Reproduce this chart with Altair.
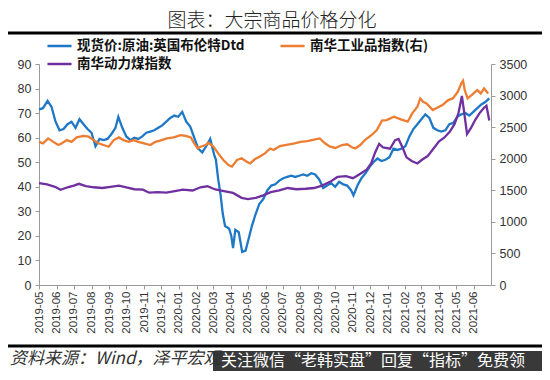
import altair as alt
import pandas as pd

# ---------------- data ----------------
S_BRENT = "现货价:原油:英国布伦特Dtd"
S_NH = "南华工业品指数(右)"
S_COAL = "南华动力煤指数"

brent_dates = [
    "2019-05-01", "2019-05-08", "2019-05-16", "2019-05-23", "2019-05-30", "2019-06-06", "2019-06-13",
    "2019-06-20", "2019-06-27", "2019-07-04", "2019-07-11", "2019-07-18", "2019-07-25", "2019-08-01",
    "2019-08-08", "2019-08-15", "2019-08-22", "2019-08-29", "2019-09-05", "2019-09-12", "2019-09-17",
    "2019-09-24", "2019-10-01", "2019-10-08", "2019-10-15", "2019-10-22", "2019-10-29", "2019-11-05",
    "2019-11-12", "2019-11-19", "2019-11-26", "2019-12-03", "2019-12-10", "2019-12-17", "2019-12-24",
    "2019-12-31", "2020-01-07", "2020-01-14", "2020-01-21", "2020-01-28", "2020-02-04", "2020-02-11",
    "2020-02-18", "2020-02-25", "2020-03-03", "2020-03-06", "2020-03-10", "2020-03-14", "2020-03-18",
    "2020-03-22", "2020-03-29", "2020-04-02", "2020-04-05", "2020-04-09", "2020-04-15", "2020-04-21",
    "2020-04-27", "2020-05-02", "2020-05-08", "2020-05-14", "2020-05-21", "2020-05-28", "2020-06-04",
    "2020-06-11", "2020-06-18", "2020-06-25", "2020-07-02", "2020-07-09", "2020-07-16", "2020-07-23",
    "2020-07-30", "2020-08-06", "2020-08-13", "2020-08-20", "2020-08-27", "2020-09-03", "2020-09-10",
    "2020-09-17", "2020-09-24", "2020-10-01", "2020-10-08", "2020-10-15", "2020-10-22", "2020-10-29",
    "2020-11-02", "2020-11-09", "2020-11-16", "2020-11-23", "2020-11-30", "2020-12-07", "2020-12-14",
    "2020-12-21", "2020-12-28", "2021-01-04", "2021-01-11", "2021-01-18", "2021-01-25", "2021-02-01",
    "2021-02-08", "2021-02-15", "2021-02-22", "2021-03-01", "2021-03-08", "2021-03-15", "2021-03-22",
    "2021-03-29", "2021-04-05", "2021-04-12", "2021-04-19", "2021-04-26", "2021-05-03", "2021-05-10",
    "2021-05-17", "2021-05-24", "2021-05-31", "2021-06-07", "2021-06-14", "2021-06-21", "2021-06-28",
]
brent_vals = [
    71.5, 72.0, 75.0, 72.5, 66.5, 63.0, 63.5,
    65.5, 66.5, 64.0, 67.5, 65.5, 63.5, 62.0,
    56.5, 59.5, 59.0, 59.5, 61.5, 64.0, 68.5,
    64.0, 60.5, 59.0, 60.0, 59.5, 60.5, 62.0,
    62.5, 63.0, 64.0, 65.0, 66.5, 68.0, 69.0,
    68.5, 70.5, 66.5, 64.5, 60.0, 55.5, 54.0,
    56.5, 59.5, 53.0, 51.0, 43.0, 37.0, 29.0,
    24.0, 23.0, 20.0, 15.0, 22.5, 21.5, 13.5,
    14.0, 18.5, 24.0, 28.5, 33.0, 35.0, 38.5,
    40.5, 41.0, 42.5, 43.5, 44.0, 44.5, 44.0,
    44.5, 45.0, 44.5, 45.5, 45.0, 43.0, 39.5,
    40.5, 41.5, 40.0, 42.0, 41.0, 40.5, 38.5,
    36.5, 40.5, 43.5, 45.5, 48.0, 50.0, 51.5,
    50.5, 51.0, 52.0, 55.5, 55.0, 55.5, 56.5,
    60.5, 63.5, 65.5, 67.5, 69.5, 68.0, 64.0,
    63.0, 62.5, 63.0, 65.5, 66.0, 68.5, 69.5,
    70.0, 69.0, 70.5, 72.0, 73.5, 74.5, 76.0,
]

coal_dates = [
    "2019-05-01", "2019-05-15", "2019-05-29", "2019-06-08", "2019-06-20", "2019-07-01", "2019-07-10",
    "2019-07-22", "2019-08-05", "2019-08-20", "2019-09-03", "2019-09-18", "2019-10-01", "2019-10-15",
    "2019-10-30", "2019-11-10", "2019-11-25", "2019-12-10", "2019-12-25", "2020-01-08", "2020-01-25",
    "2020-02-08", "2020-02-20", "2020-03-05", "2020-03-20", "2020-04-05", "2020-04-20", "2020-05-01",
    "2020-05-15", "2020-05-28", "2020-06-10", "2020-06-25", "2020-07-10", "2020-07-25", "2020-08-10",
    "2020-08-25", "2020-09-08", "2020-09-22", "2020-10-05", "2020-10-20", "2020-11-01", "2020-11-12",
    "2020-11-25", "2020-12-03", "2020-12-10", "2020-12-17", "2020-12-24", "2021-01-05", "2021-01-14",
    "2021-01-20", "2021-01-27", "2021-02-03", "2021-02-12", "2021-02-22", "2021-03-02", "2021-03-12",
    "2021-03-22", "2021-04-01", "2021-04-10", "2021-04-20", "2021-04-28", "2021-05-05", "2021-05-11",
    "2021-05-14", "2021-05-20", "2021-05-27", "2021-06-04", "2021-06-11", "2021-06-18", "2021-06-23",
    "2021-06-28",
]
coal_vals = [
    41.5, 41.0, 40.0, 38.8, 39.8, 40.5, 41.2,
    40.3, 39.8, 39.5, 40.0, 40.5, 39.8, 39.0,
    38.8, 37.6, 37.8, 37.6, 38.2, 38.8, 38.5,
    39.8, 40.2, 38.9, 38.2, 37.5, 35.5, 35.0,
    35.5, 36.5, 37.8, 38.5, 39.5, 39.0, 39.2,
    39.5, 40.5, 42.0, 44.0, 44.3, 43.5, 45.0,
    47.0, 49.5, 54.0, 57.5, 56.0, 55.5, 59.0,
    59.5, 56.0, 52.0, 50.5, 49.5, 51.0, 52.5,
    55.5, 58.5, 60.0, 62.5, 65.5, 70.0, 77.0,
    72.0, 61.5, 64.0, 67.5, 70.0, 72.0, 73.0,
    67.0,
]

nh_dates = [
    "2019-05-01", "2019-05-08", "2019-05-17", "2019-05-26", "2019-06-04", "2019-06-10", "2019-06-19",
    "2019-06-27", "2019-07-06", "2019-07-18", "2019-07-27", "2019-08-05", "2019-08-13", "2019-08-22",
    "2019-08-31", "2019-09-09", "2019-09-18", "2019-09-26", "2019-10-05", "2019-10-14", "2019-10-22",
    "2019-11-01", "2019-11-12", "2019-11-21", "2019-11-29", "2019-12-11", "2019-12-23", "2020-01-04",
    "2020-01-13", "2020-01-22", "2020-01-28", "2020-02-03", "2020-02-08", "2020-02-17", "2020-02-22",
    "2020-03-02", "2020-03-10", "2020-03-19", "2020-03-28", "2020-04-03", "2020-04-12", "2020-04-20",
    "2020-04-29", "2020-05-05", "2020-05-13", "2020-05-22", "2020-05-31", "2020-06-09", "2020-06-15",
    "2020-06-26", "2020-07-10", "2020-07-22", "2020-08-01", "2020-08-13", "2020-08-27", "2020-09-04",
    "2020-09-13", "2020-09-22", "2020-10-01", "2020-10-13", "2020-10-22", "2020-10-31", "2020-11-05",
    "2020-11-14", "2020-11-22", "2020-12-04", "2020-12-13", "2020-12-22", "2020-12-30", "2021-01-12",
    "2021-01-24", "2021-02-05", "2021-02-13", "2021-02-22", "2021-02-27", "2021-03-04", "2021-03-10",
    "2021-03-21", "2021-04-01", "2021-04-07", "2021-04-17", "2021-04-25", "2021-05-04", "2021-05-10",
    "2021-05-13", "2021-05-16", "2021-05-21", "2021-05-28", "2021-06-07", "2021-06-13", "2021-06-19",
    "2021-06-26",
]
nh_vals = [
    2267, 2244, 2322, 2267, 2217, 2244, 2295,
    2267, 2337, 2361, 2349, 2295, 2244, 2217,
    2190, 2295, 2337, 2295, 2267, 2295, 2267,
    2244, 2217, 2267, 2287, 2322, 2337, 2372,
    2361, 2337, 2244, 2162, 2190, 2217, 2252,
    2190, 2084, 1980, 1898, 1874, 1980, 2007,
    1952, 1925, 1991, 2034, 2084, 2162, 2139,
    2201, 2225, 2244, 2267, 2280, 2306, 2322,
    2244, 2190, 2170, 2217, 2228, 2178, 2162,
    2217, 2295, 2376, 2454, 2605, 2612, 2665,
    2623, 2586, 2718, 2823, 2955, 2902, 2876,
    2770, 2823, 2850, 2929, 2955, 3061, 3193,
    3235, 3087, 2955, 3008, 3087, 3034, 3113,
    3034,
]

left_ticks = [0, 10, 20, 30, 40, 50, 60, 70, 80, 90]
right_ticks = [0, 500, 1000, 1500, 2000, 2500, 3000, 3500]
month_ticks = [(2019, m) for m in range(5, 13)] + [(2020, m) for m in range(1, 13)] + [(2021, m) for m in range(1, 7)]

TITLE = "图表：大宗商品价格分化"
FOOTER = "资料来源：Wind，泽平宏观"
WATERMARK = "关注微信“老韩实盘”回复“指标”免费领"

BLUE, ORANGE, PURPLE = "#1F78C6", "#ED7D31", "#7030A0"

# ---------------- frames ----------------
left_df = pd.concat([
    pd.DataFrame({"date": brent_dates, "value": brent_vals, "series": S_BRENT}),
    pd.DataFrame({"date": coal_dates, "value": coal_vals, "series": S_COAL}),
])
right_df = pd.DataFrame({"date": nh_dates, "value": nh_vals, "series": S_NH})

AX_FONT = "Liberation Sans"
CJK = "Noto Sans CJK SC"
GRAY = "#9A9A9A"

x_enc = alt.X(
    "date:T",
    scale=alt.Scale(domain=[alt.DateTime(year=2019, month=5, date=1), alt.DateTime(year=2021, month=7, date=1)]),
    axis=alt.Axis(
        values=[alt.DateTime(year=y, month=m, date=1) for y, m in month_ticks],
        format="%Y-%m", labelAngle=270, title=None, grid=False,
        labelFont=AX_FONT, labelFontSize=11.5, labelColor="#333333",
        domainColor=GRAY, tickColor=GRAY, tickSize=4, labelPadding=2,
        labelOverlap=False, labelFlush=False,
    ),
)

# legend grid fills column by column: col 1 = Brent, coal; col 2 = Nanhua industrial
color_enc = alt.Color(
    "series:N",
    scale=alt.Scale(domain=[S_BRENT, S_COAL, S_NH], range=[BLUE, PURPLE, ORANGE]),
    legend=alt.Legend(
        title=None, orient="none", legendX=7, legendY=-25, columns=2, columnPadding=34,
        symbolType="stroke", symbolSize=580, symbolStrokeWidth=2.5, clipHeight=14,
        rowPadding=4, labelOffset=4, padding=0, labelLimit=400,
        labelFont=CJK, labelFontSize=13.5, labelFontWeight="bold", labelColor="#111111",
    ),
)

left = alt.Chart(left_df).mark_line(strokeWidth=2.3).encode(
    x=x_enc,
    y=alt.Y("value:Q", scale=alt.Scale(domain=[0, 90], nice=False),
            axis=alt.Axis(orient="left", values=left_ticks, title=None, grid=False, format="d",
                          labelFont=AX_FONT, labelFontSize=12.5, labelColor="#333333",
                          domainColor=GRAY, tickColor=GRAY, tickSize=4, labelPadding=4)),
    color=color_enc,
    order=alt.Order("date:T"),
)

right = alt.Chart(right_df).mark_line(strokeWidth=2.3).encode(
    x=x_enc,
    y=alt.Y("value:Q", scale=alt.Scale(domain=[0, 3500], nice=False),
            axis=alt.Axis(orient="right", values=right_ticks, title=None, grid=False, format="d",
                          labelFont=AX_FONT, labelFontSize=12.5, labelColor="#333333",
                          domainColor=GRAY, tickColor=GRAY, tickSize=4, labelPadding=4)),
    color=color_enc,
    order=alt.Order("date:T"),
)

one = pd.DataFrame({"k": [0]})

title_txt = alt.Chart(one).mark_text(
    text=TITLE, font=CJK, fontSize=19, fontWeight=300, color="#222222",
    align="center", baseline="middle",
).encode(x=alt.value(233), y=alt.value(-43))

top_rule = alt.Chart(one).mark_rule(color="#000000", strokeWidth=3).encode(
    x=alt.value(-31), x2=alt.value(503), y=alt.value(-31))

bottom_rule = alt.Chart(one).mark_rule(color="#000000", strokeWidth=3).encode(
    x=alt.value(-31), x2=alt.value(503), y=alt.value(282))

footer_txt = alt.Chart(one).mark_text(
    text=FOOTER, font=CJK, fontSize=17, fontStyle="italic", color="#333333",
    align="left", baseline="middle",
).encode(x=alt.value(-29), y=alt.value(295))

wm_box = alt.Chart(one).mark_rect(color="#2E2E2E", opacity=0.95).encode(
    x=alt.value(174), x2=alt.value(503), y=alt.value(287), y2=alt.value(307))

wm_txt = alt.Chart(one).mark_text(
    text=WATERMARK, font=CJK, fontSize=16, color="#FFFFFF",
    align="left", baseline="middle",
).encode(x=alt.value(182), y=alt.value(297))

chart = alt.layer(
    left, right, title_txt, top_rule, bottom_rule, footer_txt, wm_box, wm_txt
).resolve_scale(y="independent").properties(
    width=452, height=221,
    autosize=alt.AutoSizeParams(type="none"),
    padding={"left": 31, "top": 56, "right": 51, "bottom": 86},
    background="#FFFFFF",
).configure_view(stroke=None)

chart.save("out.html", embed_options={"renderer": "svg", "actions": False})
